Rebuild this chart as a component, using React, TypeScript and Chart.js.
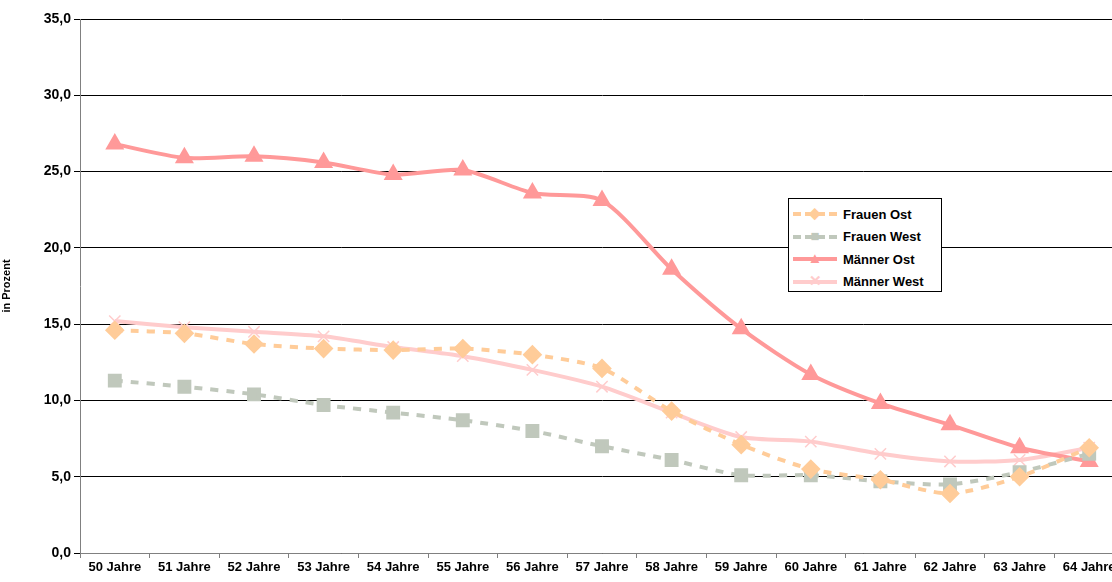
import { useEffect, useRef } from "react";
import Chart from "chart.js/auto";

const labels = ["50 Jahre", "51 Jahre", "52 Jahre", "53 Jahre", "54 Jahre", "55 Jahre", "56 Jahre", "57 Jahre", "58 Jahre", "59 Jahre", "60 Jahre", "61 Jahre", "62 Jahre", "63 Jahre", "64 Jahre"];
const frauenOst = [14.6, 14.4, 13.7, 13.4, 13.3, 13.4, 13.0, 12.1, 9.3, 7.1, 5.5, 4.8, 3.9, 5.0, 6.9];
const frauenWest = [11.3, 10.9, 10.4, 9.7, 9.2, 8.7, 8.0, 7.0, 6.1, 5.1, 5.1, 4.7, 4.5, 5.3, 6.5];
const maennerOst = [26.8, 25.9, 26.0, 25.6, 24.8, 25.1, 23.6, 23.1, 18.6, 14.7, 11.7, 9.8, 8.4, 6.9, 6.0];
const maennerWest = [15.2, 14.8, 14.5, 14.2, 13.5, 12.9, 12.0, 10.9, 9.2, 7.6, 7.3, 6.5, 6.0, 6.1, 6.9];

const font = { family: "Arial, 'Liberation Sans', sans-serif", weight: "bold" as const };

const App = () => {
  const canvasRef = useRef<HTMLCanvasElement | null>(null);

  useEffect(() => {
    if (!canvasRef.current) return;
    const chart = new Chart(canvasRef.current, {
      type: "line",
      data: {
        labels,
        datasets: [
          { label: "Frauen Ost", data: frauenOst, borderColor: "#FFCC99", backgroundColor: "#FFCC99", borderDash: [8, 8], pointStyle: "rectRot", pointRadius: 7 },
          { label: "Frauen West", data: frauenWest, borderColor: "#C0C8BC", backgroundColor: "#C0C8BC", borderDash: [8, 8], pointStyle: "rect", pointRadius: 7 },
          { label: "Männer Ost", data: maennerOst, borderColor: "#FF9999", backgroundColor: "#FF9999", pointStyle: "triangle", pointRadius: 7 },
          { label: "Männer West", data: maennerWest, borderColor: "#FFCCCC", backgroundColor: "#FFCCCC", pointStyle: "crossRot", pointRadius: 8, pointBorderWidth: 1.5 },
        ].map((d) => ({ borderWidth: 4, tension: 0.25, ...d })),
      },
      options: {
        animation: false,
        responsive: false,
        layout: { padding: { top: 19, right: 0, left: 0, bottom: 0 } },
        plugins: { legend: { display: false }, tooltip: { enabled: false } },
        scales: {
          x: {
            offset: true,
            grid: { offset: true, drawOnChartArea: false, color: "#808080", tickLength: 5 },
            border: { color: "#808080" },
            ticks: { color: "#000", font: { ...font, size: 13 }, maxRotation: 0, autoSkip: false, padding: 2 },
            afterFit: (s: any) => { s.height = 29; },
          },
          y: {
            min: 0,
            max: 35,
            ticks: { stepSize: 5, color: "#000", font: { ...font, size: 14 }, callback: (v: any) => Number(v).toFixed(1).replace(".", ",") },
            grid: { color: "#000", tickLength: 6 },
            border: { color: "#808080" },
            title: { display: true, text: "in Prozent", color: "#000", font: { ...font, size: 11 }, padding: { top: 0, bottom: 0, left: 0, right: 0 } },
            afterFit: (s: any) => { s.width = 80; },
          },
        },
      },
    });
    return () => chart.destroy();
  }, []);

  const legend: [string, string, string, boolean][] = [
    ["Frauen Ost", "#FFCC99", "◆", true],
    ["Frauen West", "#C0C8BC", "■", true],
    ["Männer Ost", "#FF9999", "▲", false],
    ["Männer West", "#FFCCCC", "✕", false],
  ];

  return (
    <div style={{ position: "fixed", left: 0, top: 0, width: 1112, height: 582, overflow: "hidden", background: "#fff" }}>
      <canvas ref={canvasRef} width={1135} height={582} style={{ width: 1135, height: 582 }} />
      <div style={{ position: "absolute", left: 788, top: 198, width: 154, height: 94, border: "1px solid #000", background: "#fff", fontFamily: "Arial, sans-serif", fontWeight: "bold", fontSize: 13, boxSizing: "border-box", paddingTop: 4 }}>
        {legend.map(([name, color, sym, dash]) => (
          <div key={name} style={{ display: "flex", alignItems: "center", height: 22.5 }}>
            <div style={{ position: "relative", width: 48, height: 16, marginLeft: 2 }}>
              <div style={{ position: "absolute", left: 2, right: 2, top: 6, borderTop: `4px ${dash ? "dashed" : "solid"} ${color}` }} />
              <div style={{ position: "absolute", left: 0, right: 0, top: -2, textAlign: "center", color, fontSize: 15 }}>{sym}</div>
            </div>
            <span style={{ marginLeft: 4 }}>{name}</span>
          </div>
        ))}
      </div>
    </div>
  );
};

export default App;
